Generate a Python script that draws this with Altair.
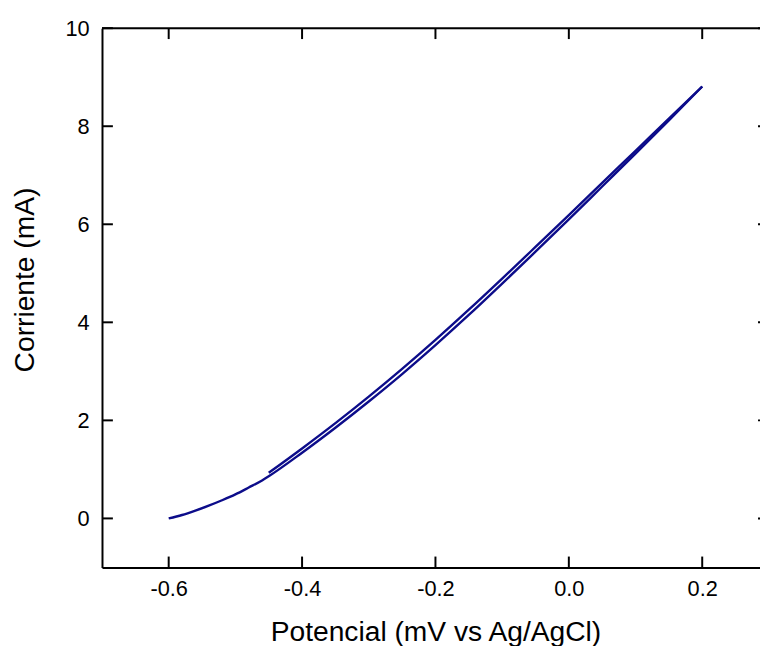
import altair as alt
import pandas as pd

# Forward sweep (lower branch)
fwd_x = [-0.60, -0.58, -0.56, -0.54, -0.52, -0.50, -0.48, -0.46, -0.45, -0.40, -0.35,
         -0.30, -0.25, -0.20, -0.15, -0.10, -0.05, 0.00, 0.05, 0.10, 0.15, 0.20]
fwd_y = [0.00, 0.07, 0.16, 0.26, 0.37, 0.49, 0.63, 0.775, 0.86, 1.34, 1.85,
         2.385, 2.945, 3.535, 4.15, 4.79, 5.44, 6.10, 6.77, 7.44, 8.12, 8.81]
# Reverse sweep (upper branch)
rev_x = [-0.45, -0.40, -0.35, -0.30, -0.25, -0.20, -0.15, -0.10, -0.05, 0.00, 0.05, 0.10, 0.15, 0.20]
rev_y = [0.93, 1.427, 1.943, 2.484, 3.05, 3.641, 4.257, 4.892, 5.538, 6.188, 6.844, 7.499, 8.155, 8.81]

x_ticks = [-0.6, -0.4, -0.2, 0.0, 0.2]
y_ticks = [0, 2, 4, 6, 8, 10]

FONT = "Liberation Sans"
COLOR = "#0c0c8a"
W, H = 665, 545          # visible plot area (right edge cropped by the window)
FULL_W = 674             # full plot-area width that the axes span
TICK = 11

rows = []
for i, (x, y) in enumerate(zip(fwd_x, fwd_y)):
    rows.append({"E": x, "I": y, "branch": "fwd", "i": i})
for i, (x, y) in enumerate(zip(rev_x, rev_y)):
    rows.append({"E": x, "I": y, "branch": "rev", "i": i})
df = pd.DataFrame(rows)

xdom = [-0.7, -0.7 + 1.0 * W / FULL_W]
xscale = alt.Scale(domain=xdom, nice=False, zero=False)
yscale = alt.Scale(domain=[-1, 10], nice=False, zero=False)

xaxis = alt.Axis(
    values=x_ticks, format=".1f",
    labelExpr="replace(datum.label, '\u2212', '-')",
    labelFontSize=22, labelFont=FONT, labelColor="black", labelPadding=11,
    labelFlush=False, labelOverlap=False,
    ticks=False, tickSize=0, grid=False,
    domain=True, domainColor="black", domainWidth=2,
    title="Potencial (mV vs Ag/AgCl)", titleFont=FONT, titleFontSize=28.5,
    titleFontWeight="normal", titleColor="black",
    titleX=FULL_W / 2, titleY=74, titleAlign="center", titleBaseline="alphabetic",
)
yaxis = alt.Axis(
    values=y_ticks,
    labelFontSize=22, labelFont=FONT, labelColor="black", labelPadding=13,
    ticks=False, tickSize=0, grid=False,
    domain=True, domainColor="black", domainWidth=2,
    title="Corriente (mA)", titleFont=FONT, titleFontSize=28.5,
    titleFontWeight="normal", titleColor="black",
    titleX=-69, titleY=254, titleAngle=-90, titleAlign="center", titleBaseline="alphabetic",
)

lines = alt.Chart(df).mark_line(color=COLOR, strokeWidth=2.4, interpolate="monotone").encode(
    x=alt.X("E:Q", scale=xscale, axis=xaxis),
    y=alt.Y("I:Q", scale=yscale, axis=yaxis),
    detail="branch:N",
    order="i:Q",
)

xt = pd.DataFrame({"E": x_ticks})
yt = pd.DataFrame({"I": y_ticks})

bottom_ticks = alt.Chart(xt).mark_rule(color="black", strokeWidth=2).encode(
    x=alt.X("E:Q", scale=xscale),
    y=alt.value(H), y2=alt.value(H - TICK),
)
top_ticks = alt.Chart(xt).mark_rule(color="black", strokeWidth=2).encode(
    x=alt.X("E:Q", scale=xscale),
    y=alt.value(0), y2=alt.value(TICK),
)
left_ticks = alt.Chart(yt).mark_rule(color="black", strokeWidth=2).encode(
    y=alt.Y("I:Q", scale=yscale),
    x=alt.value(0), x2=alt.value(TICK),
)
right_ticks = alt.Chart(yt).mark_rule(color="black", strokeWidth=2).encode(
    y=alt.Y("I:Q", scale=yscale),
    x=alt.value(FULL_W - TICK), x2=alt.value(W),
)
top_border = alt.Chart(alt.Data(values=[{}])).mark_rule(color="black", strokeWidth=2).encode(
    x=alt.value(0), x2=alt.value(W), y=alt.value(0),
)

chart = alt.layer(
    lines, top_border, bottom_ticks, top_ticks, left_ticks, right_ticks
).properties(
    width=W, height=H,
    autosize=alt.AutoSizeParams(type="none"),
    padding={"left": 95, "top": 17, "right": 0, "bottom": 76},
).configure_view(stroke=None).configure(font=FONT, background="white")

chart.save("out.html", embed_options={"renderer": "svg", "actions": False})
